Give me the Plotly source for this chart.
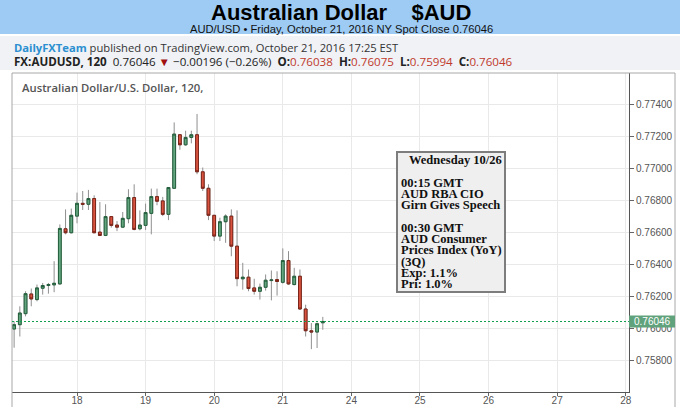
import plotly.graph_objects as go
import pandas as pd

# ---------------- data (AUD/USD, 120-minute bars) ----------------
opens = [0.75999, 0.76026, 0.76095, 0.76218, 0.76183, 0.76254, 0.76271, 0.76275, 0.76281, 0.76626,
         0.76601, 0.76705, 0.76785, 0.76779, 0.76815, 0.76605, 0.76584, 0.76702, 0.76649, 0.76636,
         0.76689, 0.76821, 0.76626, 0.76647, 0.76722, 0.76827, 0.76800, 0.76716, 0.76879, 0.77214,
         0.77151, 0.77197, 0.77214, 0.76982, 0.76879, 0.76710, 0.76580, 0.76670, 0.76705, 0.76517,
         0.76313, 0.76323, 0.76256, 0.76235, 0.76260, 0.76302, 0.76308, 0.76291, 0.76427, 0.76277,
         0.76329, 0.76124, 0.75988, 0.75980, 0.76038]
highs = [0.76047, 0.76141, 0.76235, 0.76252, 0.76277, 0.76287, 0.76287, 0.76423, 0.76653, 0.76747,
         0.76752, 0.76852, 0.76862, 0.76869, 0.76835, 0.76793, 0.76779, 0.76705, 0.76674, 0.76731,
         0.76873, 0.76904, 0.76741, 0.76783, 0.76877, 0.76877, 0.76825, 0.76886, 0.77291, 0.77218,
         0.77239, 0.77239, 0.77344, 0.77009, 0.76904, 0.76712, 0.76695, 0.76716, 0.76747, 0.76741,
         0.76413, 0.76371, 0.76313, 0.76283, 0.76340, 0.76365, 0.76360, 0.76503, 0.76486, 0.76382,
         0.76371, 0.76151, 0.76036, 0.76040, 0.76075]
lows = [0.75882, 0.75952, 0.76078, 0.76141, 0.76172, 0.76214, 0.76220, 0.76229, 0.76277, 0.76591,
        0.76597, 0.76660, 0.76743, 0.76743, 0.76598, 0.76580, 0.76580, 0.76633, 0.76611, 0.76633,
        0.76660, 0.76616, 0.76616, 0.76618, 0.76591, 0.76773, 0.76705, 0.76680, 0.76875, 0.77120,
        0.77145, 0.77160, 0.76967, 0.76862, 0.76680, 0.76549, 0.76549, 0.76538, 0.76454, 0.76266,
        0.76245, 0.76235, 0.76214, 0.76183, 0.76239, 0.76178, 0.76208, 0.76283, 0.76275, 0.76272,
        0.76120, 0.75952, 0.75873, 0.75880, 0.75994]
closes = [0.76026, 0.76099, 0.76220, 0.76187, 0.76256, 0.76271, 0.76277, 0.76285, 0.76628, 0.76601,
          0.76710, 0.76785, 0.76779, 0.76815, 0.76601, 0.76584, 0.76702, 0.76647, 0.76636, 0.76691,
          0.76821, 0.76622, 0.76649, 0.76727, 0.76827, 0.76798, 0.76716, 0.76884, 0.77218, 0.77151,
          0.77197, 0.77214, 0.76982, 0.76879, 0.76710, 0.76580, 0.76670, 0.76705, 0.76517, 0.76314,
          0.76323, 0.76252, 0.76235, 0.76260, 0.76304, 0.76306, 0.76296, 0.76427, 0.76281, 0.76329,
          0.76124, 0.75988, 0.75980, 0.76032, 0.76046]

trading_days = ["2016-10-17", "2016-10-18", "2016-10-19", "2016-10-20", "2016-10-21",
                "2016-10-24", "2016-10-25", "2016-10-26", "2016-10-27", "2016-10-28"]
day_tick_labels = ["18", "19", "20", "21", "24", "25", "26", "27", "28"]
price_ticks = [0.758, 0.760, 0.762, 0.764, 0.766, 0.768, 0.770, 0.772, 0.774]
last_price = 0.76046

event_title = "Wednesday 10/26"
event_lines = ["", "00:15 GMT", "AUD RBA CIO", "Girn Gives Speech", "",
               "00:30 GMT", "AUD Consumer", "Prices Index (YoY)", "(3Q)",
               "Exp: 1.1%", "Pri: 1.0%"]

# ---------------- x positions on a trading-day axis (weekend removed) ----------------
bar_times = pd.date_range("2016-10-17 02:00", periods=len(opens), freq="2h")
day_index = {d: i for i, d in enumerate(trading_days)}
xpos = [day_index[t.strftime("%Y-%m-%d")] + t.hour / 24 for t in bar_times]
tick_pos = [day_index[d] for d in trading_days[1:]]

body_hi = [max(o, c) for o, c in zip(opens, closes)]
body_lo = [min(o, c) for o, c in zip(opens, closes)]

GREEN = "#62a57e"
RED = "#d9533f"

fig = go.Figure()
# wicks (grey)
fig.add_trace(go.Candlestick(
    x=xpos, open=opens, high=highs, low=lows, close=closes,
    increasing=dict(line=dict(color="#8f8f8f", width=1), fillcolor=GREEN),
    decreasing=dict(line=dict(color="#8f8f8f", width=1), fillcolor=RED),
    whiskerwidth=0, hoverinfo="skip"))
# bodies with dark borders
fig.add_trace(go.Candlestick(
    x=xpos, open=opens, high=body_hi, low=body_lo, close=closes,
    increasing=dict(line=dict(color="#24603d", width=1), fillcolor=GREEN),
    decreasing=dict(line=dict(color="#7a2418", width=1), fillcolor=RED),
    whiskerwidth=0))

# ---------------- pixel helpers for decorations ----------------
PL, PR, PT, PB = 12, 629, 73, 392
W, H = 680, 407


def fx(X):
    return (X - PL) / (PR - PL)


def fy(Y):
    return (PB - Y) / (PB - PT)


shapes = []
# header bands
shapes.append(dict(type="rect", xref="paper", yref="paper", x0=fx(0), x1=fx(W), y0=fy(34), y1=fy(0),
                   fillcolor="#9ecbf4", line=dict(width=0), layer="below"))
shapes.append(dict(type="rect", xref="paper", yref="paper", x0=fx(0), x1=fx(W), y0=fy(70), y1=fy(36),
                   fillcolor="#f0f2f6", line=dict(width=0), layer="below"))
# chart frame
shapes.append(dict(type="rect", xref="paper", yref="paper", x0=fx(12), x1=fx(675), y0=fy(430), y1=fy(73),
                   line=dict(color="#a8a8a8", width=1), fillcolor="rgba(0,0,0,0)", layer="above"))
# last price dotted line
shapes.append(dict(type="line", xref="paper", yref="y", x0=0, x1=1, y0=last_price, y1=last_price,
                   line=dict(color="#13a050", width=1.2, dash="2px,2px"), layer="above"))
# last price label box
shapes.append(dict(type="rect", xref="paper", yref="y", x0=1, x1=fx(675),
                   y0=last_price - 0.00038, y1=last_price + 0.00038,
                   fillcolor="#5fa27c", line=dict(width=0), layer="above"))
# event box
shapes.append(dict(type="rect", xref="paper", yref="paper", x0=fx(397), x1=fx(505), y0=fy(292), y1=fy(152),
                   fillcolor="#efefef", line=dict(color="#7d7d7d", width=2), layer="above"))

NB = "\u00a0"
ann = []
ann.append(dict(xref="paper", yref="paper", x=fx(341), y=fy(12), xanchor="center", yanchor="middle",
                text="Australian Dollar" + NB * 4 + "$AUD", showarrow=False,
                font=dict(family="Liberation Sans", size=22, color="#000000", weight="bold")))
ann.append(dict(xref="paper", yref="paper", x=fx(342), y=fy(28.5), xanchor="center", yanchor="middle",
                text="AUD/USD \u2022 Friday, October 21, 2016 NY Spot Close 0.76046", showarrow=False,
                font=dict(family="Liberation Sans", size=11.2, color="#111111")))
ann.append(dict(xref="paper", yref="paper", x=fx(12), y=fy(47), xanchor="left", yanchor="middle",
                text="<span style='color:#2b8fd0'><b>DailyFXTeam</b></span> published on TradingView.com, October 21, 2016 17:25 EST",
                showarrow=False, font=dict(family="Open Sans", size=11.2, color="#333333")))
red = "#c0392b"
ann.append(dict(xref="paper", yref="paper", x=fx(12), y=fy(62), xanchor="left", yanchor="middle",
                text=("<b>FX:AUDUSD, 120</b>" + NB * 2 + "0.76046 <span style='color:#a01010'>\u25bc</span>"
                      " \u22120.00196 (\u22120.26%)" + NB * 2 +
                      f"<b>O:</b><span style='color:{red}'>0.76038</span>" + NB * 2 +
                      f"<b>H:</b><span style='color:{red}'>0.76075</span>" + NB * 2 +
                      f"<b>L:</b><span style='color:{red}'>0.75994</span>" + NB * 2 +
                      f"<b>C:</b><span style='color:{red}'>0.76046</span>"),
                showarrow=False, font=dict(family="Open Sans", size=11.6, color="#222222")))
ann.append(dict(xref="paper", yref="paper", x=fx(20), y=fy(87), xanchor="left", yanchor="middle",
                text="Australian Dollar/U.S. Dollar, 120,", showarrow=False,
                font=dict(family="Open Sans", size=11.3, color="#555555", weight=600)))
# last price text
ann.append(dict(xref="paper", yref="y", x=fx(652), y=last_price, xanchor="center", yanchor="middle",
                text=f"{last_price:.5f}", showarrow=False,
                font=dict(family="Liberation Sans", size=10, color="#ffffff")))
# event text
ann.append(dict(xref="paper", yref="paper", x=fx(455), y=fy(160), xanchor="center", yanchor="middle",
                text=event_title, showarrow=False,
                font=dict(family="Liberation Serif", size=12.5, color="#111111", weight="bold")))
for k, line in enumerate(event_lines):
    if not line:
        continue
    ann.append(dict(xref="paper", yref="paper", x=fx(398.5), y=fy(160 + 11.3 * (k + 1)),
                    xanchor="left", yanchor="middle", text=line, showarrow=False,
                    font=dict(family="Liberation Serif", size=12.5, color="#111111", weight="bold")))

fig.update_layout(
    width=W, height=H, margin=dict(l=PL, r=W - PR, t=PT, b=H - PB, autoexpand=False),
    paper_bgcolor="white", plot_bgcolor="white", showlegend=False,
    shapes=shapes, annotations=ann,
    xaxis=dict(range=[0.0525, 9.047], tickvals=tick_pos, ticktext=day_tick_labels,
               showgrid=True, gridcolor="#e9e9e9", gridwidth=1, zeroline=False,
               showline=True, linecolor="#555555", linewidth=1, automargin=False,
               ticks="outside", ticklen=3, tickcolor="#666666", ticklabelstandoff=-4,
               tickfont=dict(family="Liberation Sans", size=10, color="#555555"),
               rangeslider=dict(visible=False)),
    yaxis=dict(side="right", range=[0.75605, 0.776], tickvals=price_ticks, tickformat=".5f",
               showgrid=True, gridcolor="#e9e9e9", gridwidth=1, zeroline=False,
               showline=True, linecolor="#555555", linewidth=1, automargin=False,
               ticks="outside", ticklen=4, tickcolor="#666666",
               tickfont=dict(family="Liberation Sans", size=10, color="#555555")),
)

fig.write_html("out.html")
